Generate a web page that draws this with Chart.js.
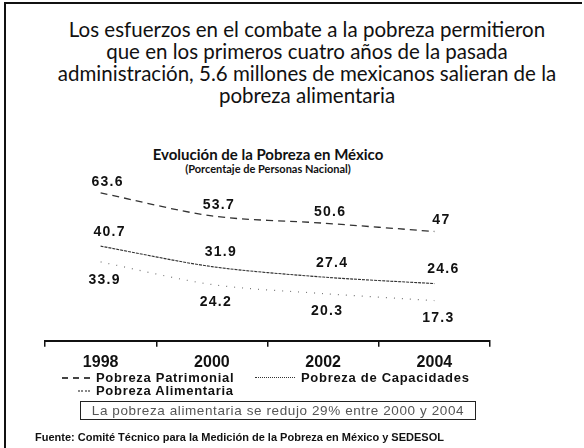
<!DOCTYPE html>
<html>
<head>
<meta charset="utf-8">
<script src="https://cdn.jsdelivr.net/npm/chart.js@4.4.1/dist/chart.umd.min.js"></script>
<style>
  html,body{margin:0;padding:0;background:#fff;}
  body{width:584px;height:448px;position:relative;overflow:hidden;font-family:"Liberation Sans",Arial,sans-serif;color:#111;}
  #topline{position:absolute;left:4px;top:2px;width:578px;height:2px;background:#111;}
  #leftline{position:absolute;left:4px;top:2px;width:2px;height:446px;background:#111;}
  #slideTitle{position:absolute;left:10px;top:18px;width:594px;text-align:center;font-family:Lato,"Noto Sans",sans-serif;font-size:20.5px;line-height:22px;color:#111;}
  #chartTitle{position:absolute;left:0;top:145px;width:536px;text-align:center;font-family:Lato,sans-serif;font-weight:bold;font-size:15px;color:#111;}
  #chartSub{position:absolute;left:0;top:162px;width:536px;text-align:center;font-family:Lato,sans-serif;font-weight:bold;font-size:11px;color:#111;}
  #cv{position:absolute;left:0;top:170px;}
  .leg{position:absolute;font-weight:bold;font-size:13px;letter-spacing:0.7px;line-height:13px;white-space:nowrap;color:#111;}
  .mk{display:inline-block;vertical-align:middle;margin-right:6px;height:0;position:relative;top:-1px;}
  #box{position:absolute;left:80px;top:401px;width:394px;height:17px;border:1px solid #222;text-align:center;font-size:13.5px;line-height:17px;color:#555;letter-spacing:0.6px;}
  #foot{position:absolute;left:35px;top:431px;font-family:"Liberation Sans Narrow","Liberation Sans",sans-serif;font-weight:bold;font-size:11px;color:#111;white-space:nowrap;}
</style>
</head>
<body>
<div id="topline"></div>
<div id="leftline"></div>
<div id="slideTitle">Los esfuerzos en el combate a la pobreza permitieron<br>que en los primeros cuatro años de la pasada<br>administración, 5.6 millones de mexicanos salieran de la<br>pobreza alimentaria</div>
<div id="chartTitle">Evolución de la Pobreza en México</div>
<div id="chartSub">(Porcentaje de Personas Nacional)</div>
<canvas id="cv" width="584" height="208"></canvas>
<div id="legend"></div>
<div id="box">La pobreza alimentaria se redujo 29% entre 2000 y 2004</div>
<div id="foot">Fuente: Comité Técnico para la Medición de la Pobreza en México y SEDESOL</div>
<script>
const categories = ['1998', '2000', '2002', '2004'];
const patrimonial = [63.6, 53.7, 50.6, 47];
const capacidades = [40.7, 31.9, 27.4, 24.6];
const alimentaria = [33.9, 24.2, 20.3, 17.3];
const seriesNames = ['Pobreza Patrimonial', 'Pobreza de Capacidades', 'Pobreza Alimentaria'];

const styles = [
  {color:'#333', dash:[7,5], width:1.3, css:'2px dashed #444', mw:28, dx:7, dy:-11},
  {color:'#333', dash:[3,1], width:1.1, css:'1px dotted #333', mw:40, dx:9, dy:-14},
  {color:'#777', dash:[1,7], width:1.2, css:'2px dotted #888', mw:12, dx:4, dy:18}
];
const seriesData = [patrimonial, capacidades, alimentaria];

const valueLabels = {
  id:'valueLabels',
  afterDatasetsDraw(chart){
    const ctx = chart.ctx;
    ctx.save();
    ctx.font = 'bold 14px "Liberation Sans", Arial, sans-serif';
    ctx.fillStyle = '#111';
    ctx.textAlign = 'center';
    ctx.textBaseline = 'middle';
    if ('letterSpacing' in ctx) ctx.letterSpacing = '1.3px';
    chart.data.datasets.forEach((ds, i) => {
      const meta = chart.getDatasetMeta(i);
      meta.data.forEach((pt, j) => {
        ctx.fillText(String(ds.data[j]), pt.x + styles[i].dx, pt.y + styles[i].dy);
      });
    });
    ctx.restore();
  }
};

new Chart(document.getElementById('cv'), {
  type:'line',
  data:{
    labels:categories,
    datasets: seriesData.map((d, i) => ({
      label:seriesNames[i],
      data:d,
      borderColor:styles[i].color,
      borderDash:styles[i].dash,
      borderWidth:styles[i].width,
      pointRadius:0,
      tension:0.3,
      fill:false
    }))
  },
  options:{
    responsive:false,
    animation:false,
    devicePixelRatio:1,
    layout:{padding:{left:45, right:94, top:8, bottom:0}},
    plugins:{legend:{display:false}, title:{display:false}, tooltip:{enabled:false}},
    scales:{
      y:{display:false, min:0, max:70},
      x:{
        offset:true,
        grid:{display:true, offset:true, drawOnChartArea:false, drawTicks:true, tickLength:6, color:'#111', lineWidth:1.5},
        border:{display:true, color:'#111', width:2},
        ticks:{color:'#111', padding:6, font:{family:'"Liberation Sans", Arial, sans-serif', weight:'bold', size:16}}
      }
    }
  },
  plugins:[valueLabels]
});

// legend built from series names
const legendPos = [
  {left:62, top:371},
  {left:255, top:371},
  {left:78, top:384}
];
const legend = document.getElementById('legend');
seriesNames.forEach((name, i) => {
  const d = document.createElement('div');
  d.className = 'leg';
  d.style.left = legendPos[i].left + 'px';
  d.style.top = legendPos[i].top + 'px';
  const m = document.createElement('span');
  m.className = 'mk';
  m.style.width = styles[i].mw + 'px';
  m.style.borderTop = styles[i].css;
  d.appendChild(m);
  d.appendChild(document.createTextNode(name));
  legend.appendChild(d);
});
</script>
</body>
</html>
